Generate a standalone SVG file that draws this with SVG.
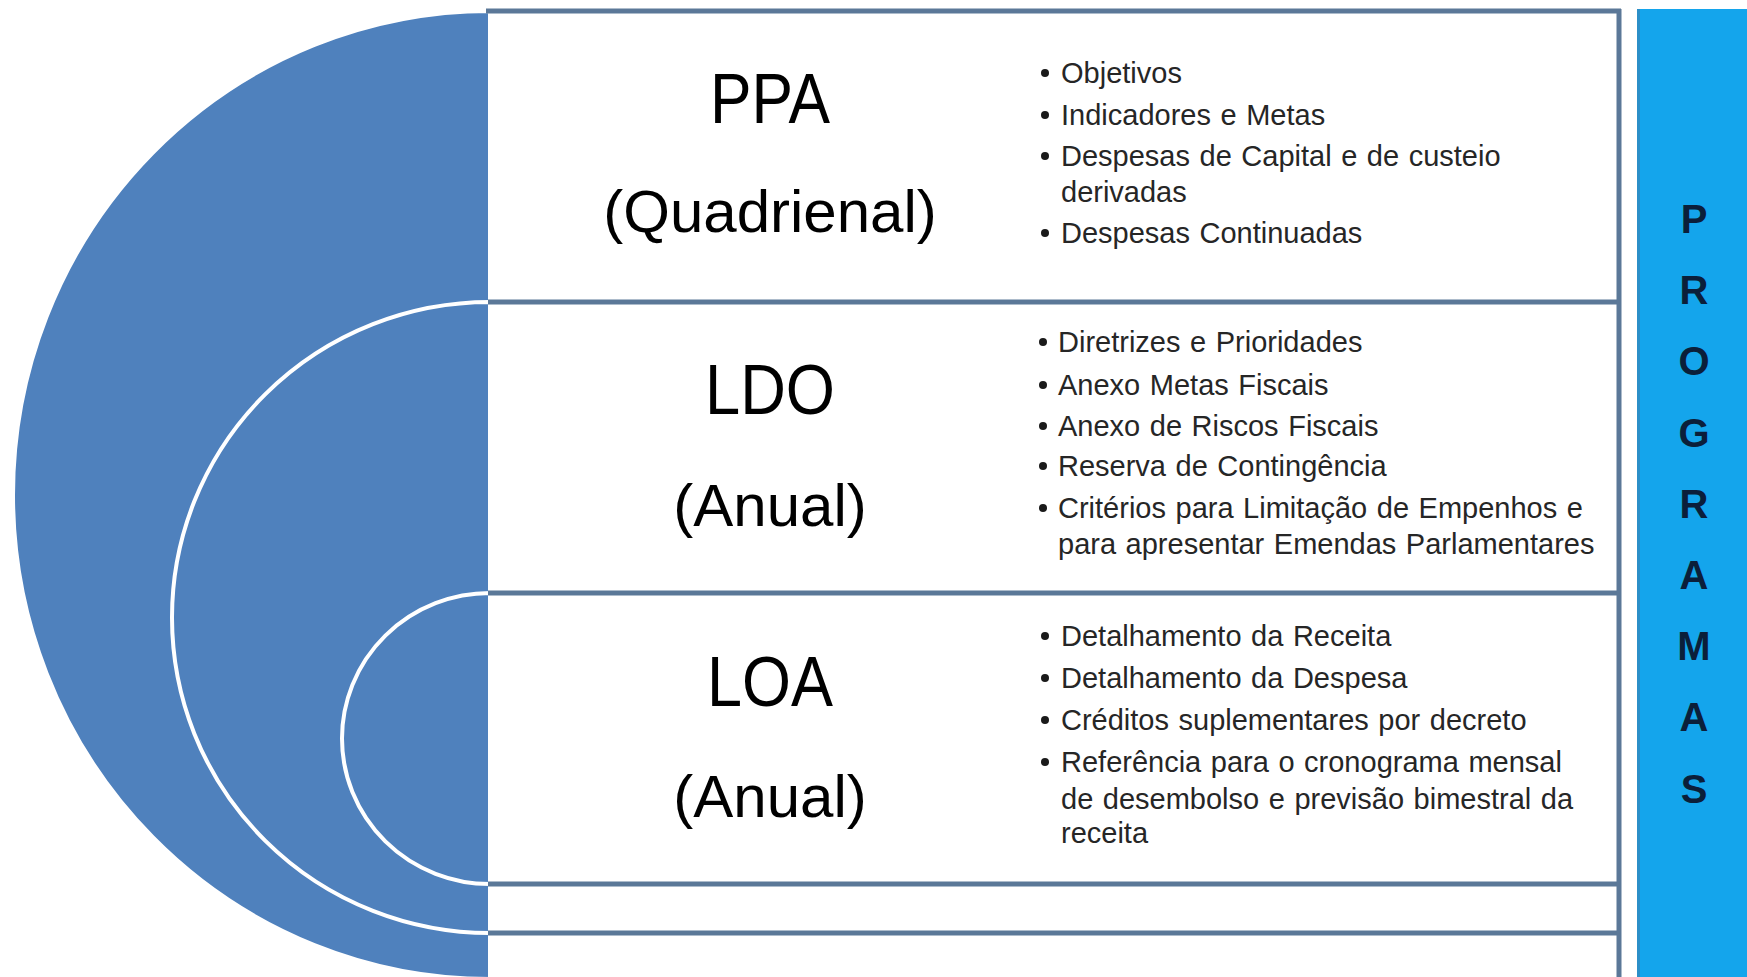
<svg xmlns="http://www.w3.org/2000/svg" width="1747" height="977" viewBox="0 0 1747 977">
  <style>
    .arc { fill: #4f81bd; stroke: #ffffff; stroke-width: 4; }
    .sep { stroke: #5b7898; stroke-width: 5; fill: none; }
    .title { font-family: "Liberation Sans", Arial, sans-serif; font-size: 71px; fill: #000000; text-anchor: middle; }
    .sub { font-family: "Liberation Sans", Arial, sans-serif; font-size: 60px; fill: #000000; text-anchor: middle; }
    .item { font-family: "Liberation Sans", Arial, sans-serif; font-size: 29px; word-spacing: 1.5px; fill: #262626; }
    .dot { fill: #1a1a1a; }
    .prog { font-family: "Liberation Sans", Arial, sans-serif; font-size: 40px; font-weight: bold; fill: #0b1f3a; text-anchor: middle; }
  </style>
  <rect x="0" y="0" width="1747" height="977" fill="#ffffff"/>

  <g id="arcs">
    <path class="arc" d="M490,11 A477,484 0 0 0 490,979 Z"/>
    <path class="arc" d="M490,302 A318,315.5 0 0 0 490,933 Z"/>
    <path class="arc" d="M490,593 A148,145.5 0 0 0 490,884 Z"/>
  </g>

  <g id="boxes">
    <rect x="490" y="11" width="1129" height="970" fill="#ffffff"/>
    <line class="sep" x1="486" y1="11" x2="1621" y2="11"/>
    <line class="sep" x1="488" y1="302" x2="1621" y2="302"/>
    <line class="sep" x1="488" y1="593" x2="1621" y2="593"/>
    <line class="sep" x1="488" y1="884" x2="1621" y2="884"/>
    <line class="sep" x1="488" y1="933" x2="1621" y2="933"/>
    <line class="sep" x1="1619" y1="9" x2="1619" y2="977"/>
  </g>

  <g id="ppa">
    <text class="title" x="770" y="123" textLength="120" lengthAdjust="spacingAndGlyphs">PPA</text>
    <text class="sub" x="770" y="232">(Quadrienal)</text>
    <circle class="dot" cx="1045" cy="73" r="4"/>
    <text class="item" x="1061" y="83">Objetivos</text>
    <circle class="dot" cx="1045" cy="115" r="4"/>
    <text class="item" x="1061" y="125">Indicadores e Metas</text>
    <circle class="dot" cx="1045" cy="156" r="4"/>
    <text class="item" x="1061" y="166">Despesas de Capital e de custeio</text>
    <text class="item" x="1061" y="202">derivadas</text>
    <circle class="dot" cx="1045" cy="233" r="4"/>
    <text class="item" x="1061" y="243">Despesas Continuadas</text>
  </g>

  <g id="ldo">
    <text class="title" x="770" y="414" textLength="130" lengthAdjust="spacingAndGlyphs">LDO</text>
    <text class="sub" x="770" y="526">(Anual)</text>
    <circle class="dot" cx="1043" cy="342" r="4"/>
    <text class="item" x="1058" y="352">Diretrizes e Prioridades</text>
    <circle class="dot" cx="1043" cy="385" r="4"/>
    <text class="item" x="1058" y="395">Anexo Metas Fiscais</text>
    <circle class="dot" cx="1043" cy="426" r="4"/>
    <text class="item" x="1058" y="436">Anexo de Riscos Fiscais</text>
    <circle class="dot" cx="1043" cy="466" r="4"/>
    <text class="item" x="1058" y="476">Reserva de Contingência</text>
    <circle class="dot" cx="1043" cy="508" r="4"/>
    <text class="item" x="1058" y="518">Critérios para Limitação de Empenhos e</text>
    <text class="item" x="1058" y="554">para apresentar Emendas Parlamentares</text>
  </g>

  <g id="loa">
    <text class="title" x="770" y="706" textLength="126" lengthAdjust="spacingAndGlyphs">LOA</text>
    <text class="sub" x="770" y="817">(Anual)</text>
    <circle class="dot" cx="1045" cy="636" r="4"/>
    <text class="item" x="1061" y="646">Detalhamento da Receita</text>
    <circle class="dot" cx="1045" cy="678" r="4"/>
    <text class="item" x="1061" y="688">Detalhamento da Despesa</text>
    <circle class="dot" cx="1045" cy="720" r="4"/>
    <text class="item" x="1061" y="730">Créditos suplementares por decreto</text>
    <circle class="dot" cx="1045" cy="762" r="4"/>
    <text class="item" x="1061" y="772">Referência para o cronograma mensal</text>
    <text class="item" x="1061" y="809">de desembolso e previsão bimestral da</text>
    <text class="item" x="1061" y="843">receita</text>
  </g>

  <g id="programas">
    <rect x="1637" y="9" width="112" height="970" fill="#14a5ec"/>
    <line x1="1638.5" y1="9" x2="1638.5" y2="977" stroke="#2b8fc8" stroke-width="3"/>
    <text class="prog" x="1694" y="233">P</text>
    <text class="prog" x="1694" y="304">R</text>
    <text class="prog" x="1694" y="375">O</text>
    <text class="prog" x="1694" y="447">G</text>
    <text class="prog" x="1694" y="518">R</text>
    <text class="prog" x="1694" y="589">A</text>
    <text class="prog" x="1694" y="660">M</text>
    <text class="prog" x="1694" y="731">A</text>
    <text class="prog" x="1694" y="803">S</text>
  </g>
</svg>
